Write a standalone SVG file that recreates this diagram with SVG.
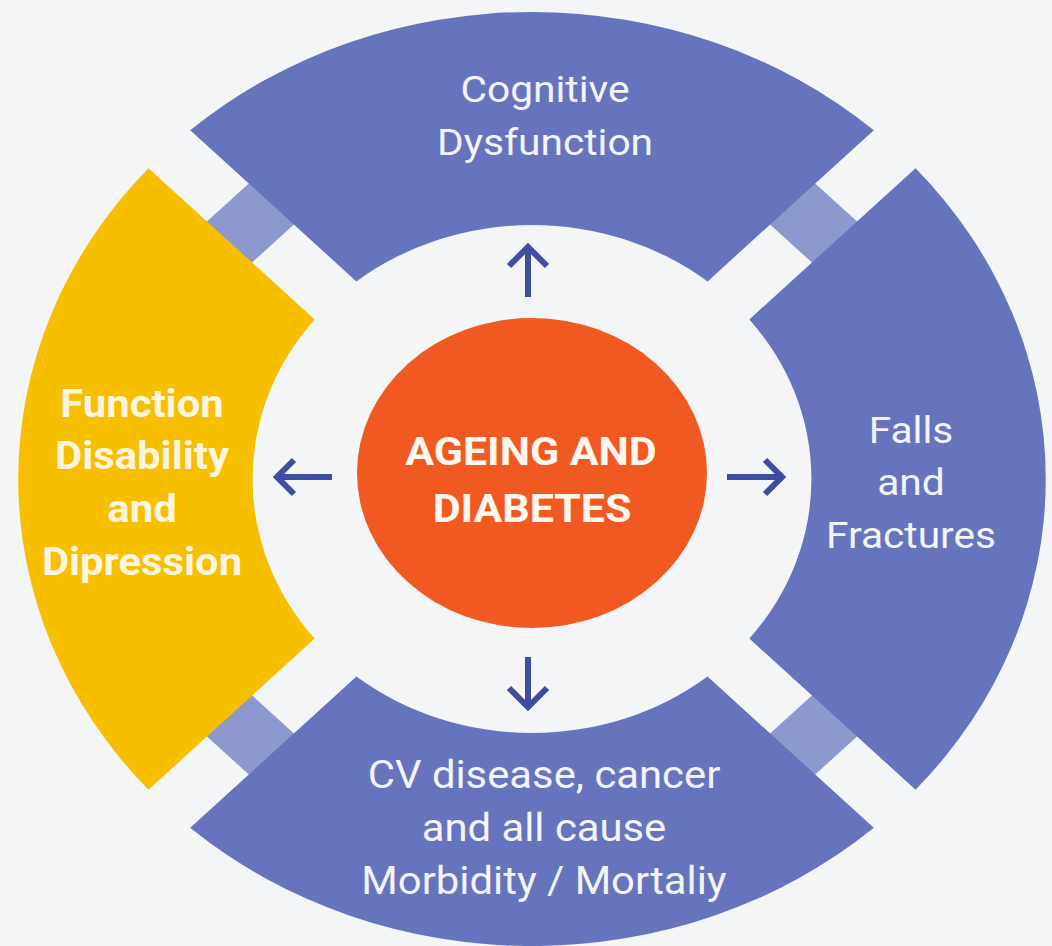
<svg xmlns="http://www.w3.org/2000/svg" width="1052" height="946" viewBox="0 0 1052 946">
  <defs>
    <path id="seg" d="M -310.7,-348.7 A 467 467 0 0 1 310.7,-348.7 L 159.6,-197.6 A 254 254 0 0 0 -159.6,-197.6 Z"/>
    <style>
      .blue { fill: #6673bd; }
      .yellow { fill: #f6bf00; }
      .gap { fill: #8d98cf; }
      .lbl { font-family: Roboto, "Liberation Sans", sans-serif; font-size: 37px; fill: #f4f4fb; text-anchor: middle; }
      .bold { font-weight: bold; font-size: 38px; fill: #fdf5e0; }
      .ctr { font-family: Roboto, "Liberation Sans", sans-serif; font-weight: bold; font-size: 39px; fill: #fff6ee; text-anchor: middle; }
      .arr { fill: none; stroke: #3f4c9f; stroke-width: 6; stroke-linejoin: miter; stroke-linecap: butt; }
    </style>
  </defs>
  <rect width="1052" height="946" fill="#f4f5f7"/>

  <g id="gap-blocks">
    <rect class="gap" x="-28" y="-391" width="56" height="58" transform="translate(532 479) scale(1.1 1) rotate(-45)"/>
    <rect class="gap" x="-28" y="-391" width="56" height="58" transform="translate(532 479) scale(1.1 1) rotate(45)"/>
    <rect class="gap" x="-28" y="-391" width="56" height="58" transform="translate(532 479) scale(1.1 1) rotate(135)"/>
    <rect class="gap" x="-28" y="-391" width="56" height="58" transform="translate(532 479) scale(1.1 1) rotate(225)"/>
  </g>

  <g id="node-cognitive">
    <use href="#seg" class="blue" transform="translate(532 479) scale(1.1 1)"/>
    <text class="lbl" transform="translate(545 0) scale(1.1 1)" x="0" y="102">Cognitive</text>
    <text class="lbl" transform="translate(545 0) scale(1.1 1)" x="0" y="155">Dysfunction</text>
  </g>

  <g id="node-falls">
    <use href="#seg" class="blue" transform="translate(532 479) scale(1.1 1) rotate(90)"/>
    <text class="lbl" transform="translate(911 0) scale(1.1 1)" x="0" y="443">Falls</text>
    <text class="lbl" transform="translate(911 0) scale(1.1 1)" x="0" y="495">and</text>
    <text class="lbl" transform="translate(911 0) scale(1.1 1)" x="0" y="548">Fractures</text>
  </g>

  <g id="node-cv">
    <use href="#seg" class="blue" transform="translate(532 479) scale(1.1 1) rotate(180)"/>
    <text class="lbl" transform="translate(544 0) scale(1.1 1)" x="0" y="788" style="font-size:38px">CV disease, cancer</text>
    <text class="lbl" transform="translate(544 0) scale(1.1 1)" x="0" y="841" style="font-size:38px">and all cause</text>
    <text class="lbl" transform="translate(544 0) scale(1.1 1)" x="0" y="894" style="font-size:38px">Morbidity / Mortaliy</text>
  </g>

  <g id="node-function">
    <use href="#seg" class="yellow" transform="translate(532 479) scale(1.1 1) rotate(270)"/>
    <text class="lbl bold" transform="translate(142 0) scale(1.1 1)" x="0" y="417">Function</text>
    <text class="lbl bold" transform="translate(142 0) scale(1.1 1)" x="0" y="469">Disability</text>
    <text class="lbl bold" transform="translate(142 0) scale(1.1 1)" x="0" y="522">and</text>
    <text class="lbl bold" transform="translate(142 0) scale(1.1 1)" x="0" y="575">Dipression</text>
  </g>

  <g id="node-center">
    <ellipse cx="532" cy="473" rx="175" ry="155" fill="#f05a22"/>
    <text class="ctr" transform="translate(531 0) scale(1.1 1)" x="0" y="465">AGEING AND</text>
    <text class="ctr" transform="translate(532 0) scale(1.1 1)" x="0" y="522">DIABETES</text>
  </g>

  <g id="connectors">
    <path class="arr" d="M528,297 L528,250 M509,266 L528,247 L547,266"/>
    <path class="arr" d="M528,657 L528,704 M509,688 L528,707 L547,688"/>
    <path class="arr" d="M332,477 L280,477 M294,460 L277,477 L294,494"/>
    <path class="arr" d="M727,477 L779,477 M765,460 L782,477 L765,494"/>
  </g>
</svg>
